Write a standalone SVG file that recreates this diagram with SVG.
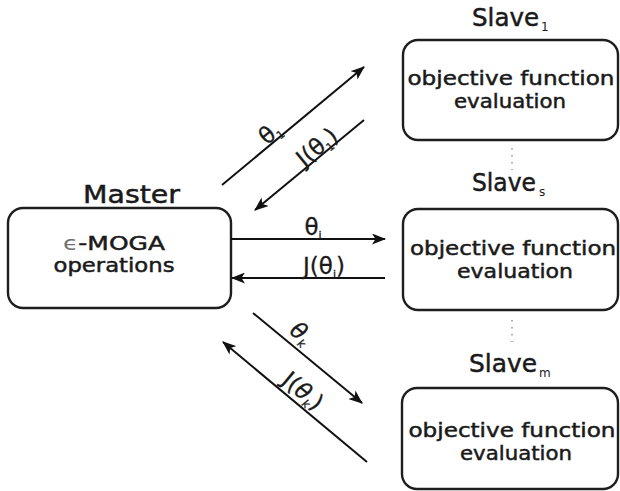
<svg xmlns="http://www.w3.org/2000/svg" width="620" height="491" viewBox="0 0 620 491">
  <style>
    .box { fill: #ffffff; stroke: #1e1e1e; stroke-width: 2.4; }
    .title { font-family: "DejaVu Sans", "Liberation Sans", sans-serif; font-size: 25px; fill: #1a1a1a; stroke: #1a1a1a; stroke-width: 0.5; }
    .body { font-family: "DejaVu Sans", "Liberation Sans", sans-serif; font-size: 20px; fill: #1a1a1a; stroke: #1a1a1a; stroke-width: 0.5; text-anchor: middle; }
    .lbl { font-family: "DejaVu Sans", "Liberation Sans", sans-serif; font-size: 23px; fill: #1a1a1a; stroke: #1a1a1a; stroke-width: 0.3; text-anchor: middle; }
    .sub { font-size: 11px; }
    .tsub { font-family: "DejaVu Sans", "Liberation Sans", sans-serif; font-size: 12px; fill: #1a1a1a; }
    .wire { stroke: #111111; stroke-width: 2; fill: none; marker-end: url(#head); }
    .dots { stroke: #9a9a9a; stroke-width: 1.6; stroke-dasharray: 1.5 5.5; fill: none; }
  </style>
  <defs>
    <marker id="head" viewBox="0 0 14 11" refX="13" refY="5.5" markerWidth="14" markerHeight="11" markerUnits="userSpaceOnUse" orient="auto">
      <path d="M0,0 L14,5.5 L0,11 L3.5,5.5 Z" fill="#111111"/>
    </marker>
  </defs>
  <rect width="620" height="491" fill="#ffffff"/>

  <!-- Master node -->
  <g id="master">
    <text class="title" x="83" y="203" textLength="97" lengthAdjust="spacingAndGlyphs">Master</text>
    <rect class="box" x="8" y="208" width="223" height="100" rx="15"/>
    <text class="body" x="114" y="250" textLength="102" lengthAdjust="spacingAndGlyphs"><tspan fill="#707070" stroke="none">ϵ</tspan>-MOGA</text>
    <text class="body" x="114" y="272" textLength="121" lengthAdjust="spacingAndGlyphs">operations</text>
  </g>

  <!-- Slave 1 -->
  <g id="slave1">
    <text class="title" x="472" y="26" textLength="67" lengthAdjust="spacingAndGlyphs">Slave</text>
    <text class="tsub" x="541" y="31">1</text>
    <rect class="box" x="403" y="40" width="215" height="100" rx="15"/>
    <text class="body" x="511" y="85" textLength="207" lengthAdjust="spacingAndGlyphs">objective function</text>
    <text class="body" x="510" y="108" textLength="112" lengthAdjust="spacingAndGlyphs">evaluation</text>
  </g>

  <!-- Slave s -->
  <g id="slave-s">
    <text class="title" x="472" y="191" textLength="64" lengthAdjust="spacingAndGlyphs">Slave</text>
    <text class="tsub" x="539" y="196">s</text>
    <rect class="box" x="403" y="209" width="215" height="101" rx="15"/>
    <text class="body" x="513" y="255" textLength="206" lengthAdjust="spacingAndGlyphs">objective function</text>
    <text class="body" x="515" y="278" textLength="116" lengthAdjust="spacingAndGlyphs">evaluation</text>
  </g>

  <!-- Slave m -->
  <g id="slave-m">
    <text class="title" x="469" y="372" textLength="68" lengthAdjust="spacingAndGlyphs">Slave</text>
    <text class="tsub" x="539" y="377">m</text>
    <rect class="box" x="402" y="388" width="216" height="101" rx="15"/>
    <text class="body" x="512" y="437" textLength="207" lengthAdjust="spacingAndGlyphs">objective function</text>
    <text class="body" x="516" y="460" textLength="112" lengthAdjust="spacingAndGlyphs">evaluation</text>
  </g>

  <!-- ellipsis between slaves -->
  <g id="ellipsis">
    <line class="dots" x1="512" y1="148" x2="512" y2="170"/>
    <line class="dots" x1="512" y1="320" x2="512" y2="342"/>
  </g>

  <!-- connectors -->
  <g id="connectors">
    <line class="wire" x1="222" y1="185" x2="364" y2="67"/>
    <line class="wire" x1="364" y1="120" x2="255" y2="210"/>
    <line class="wire" x1="231" y1="239" x2="385" y2="239"/>
    <line class="wire" x1="385" y1="278" x2="232" y2="278"/>
    <line class="wire" x1="253" y1="313" x2="362" y2="403"/>
    <line class="wire" x1="367" y1="462" x2="223" y2="342"/>

    <text class="lbl" transform="translate(275,139) rotate(-39.5)">θ<tspan class="sub" dy="4">1</tspan></text>
    <text class="lbl" transform="translate(322,153) rotate(-39.5)">J(θ<tspan class="sub" dy="4">1</tspan><tspan dy="-4">)</tspan></text>
    <text class="lbl" x="313" y="235">θ<tspan class="sub" dy="4">i</tspan></text>
    <text class="lbl" x="324" y="274">J(θ<tspan class="sub" dy="4">i</tspan><tspan dy="-4">)</tspan></text>
    <text class="lbl" transform="translate(296,339) rotate(39.7)" font-style="italic">θ<tspan class="sub" dy="4">k</tspan></text>
    <text class="lbl" transform="translate(298,397) rotate(39.7)">J(<tspan font-style="italic">θ</tspan><tspan class="sub" dy="4" font-style="italic">k</tspan><tspan dy="-4">)</tspan></text>
  </g>
</svg>
